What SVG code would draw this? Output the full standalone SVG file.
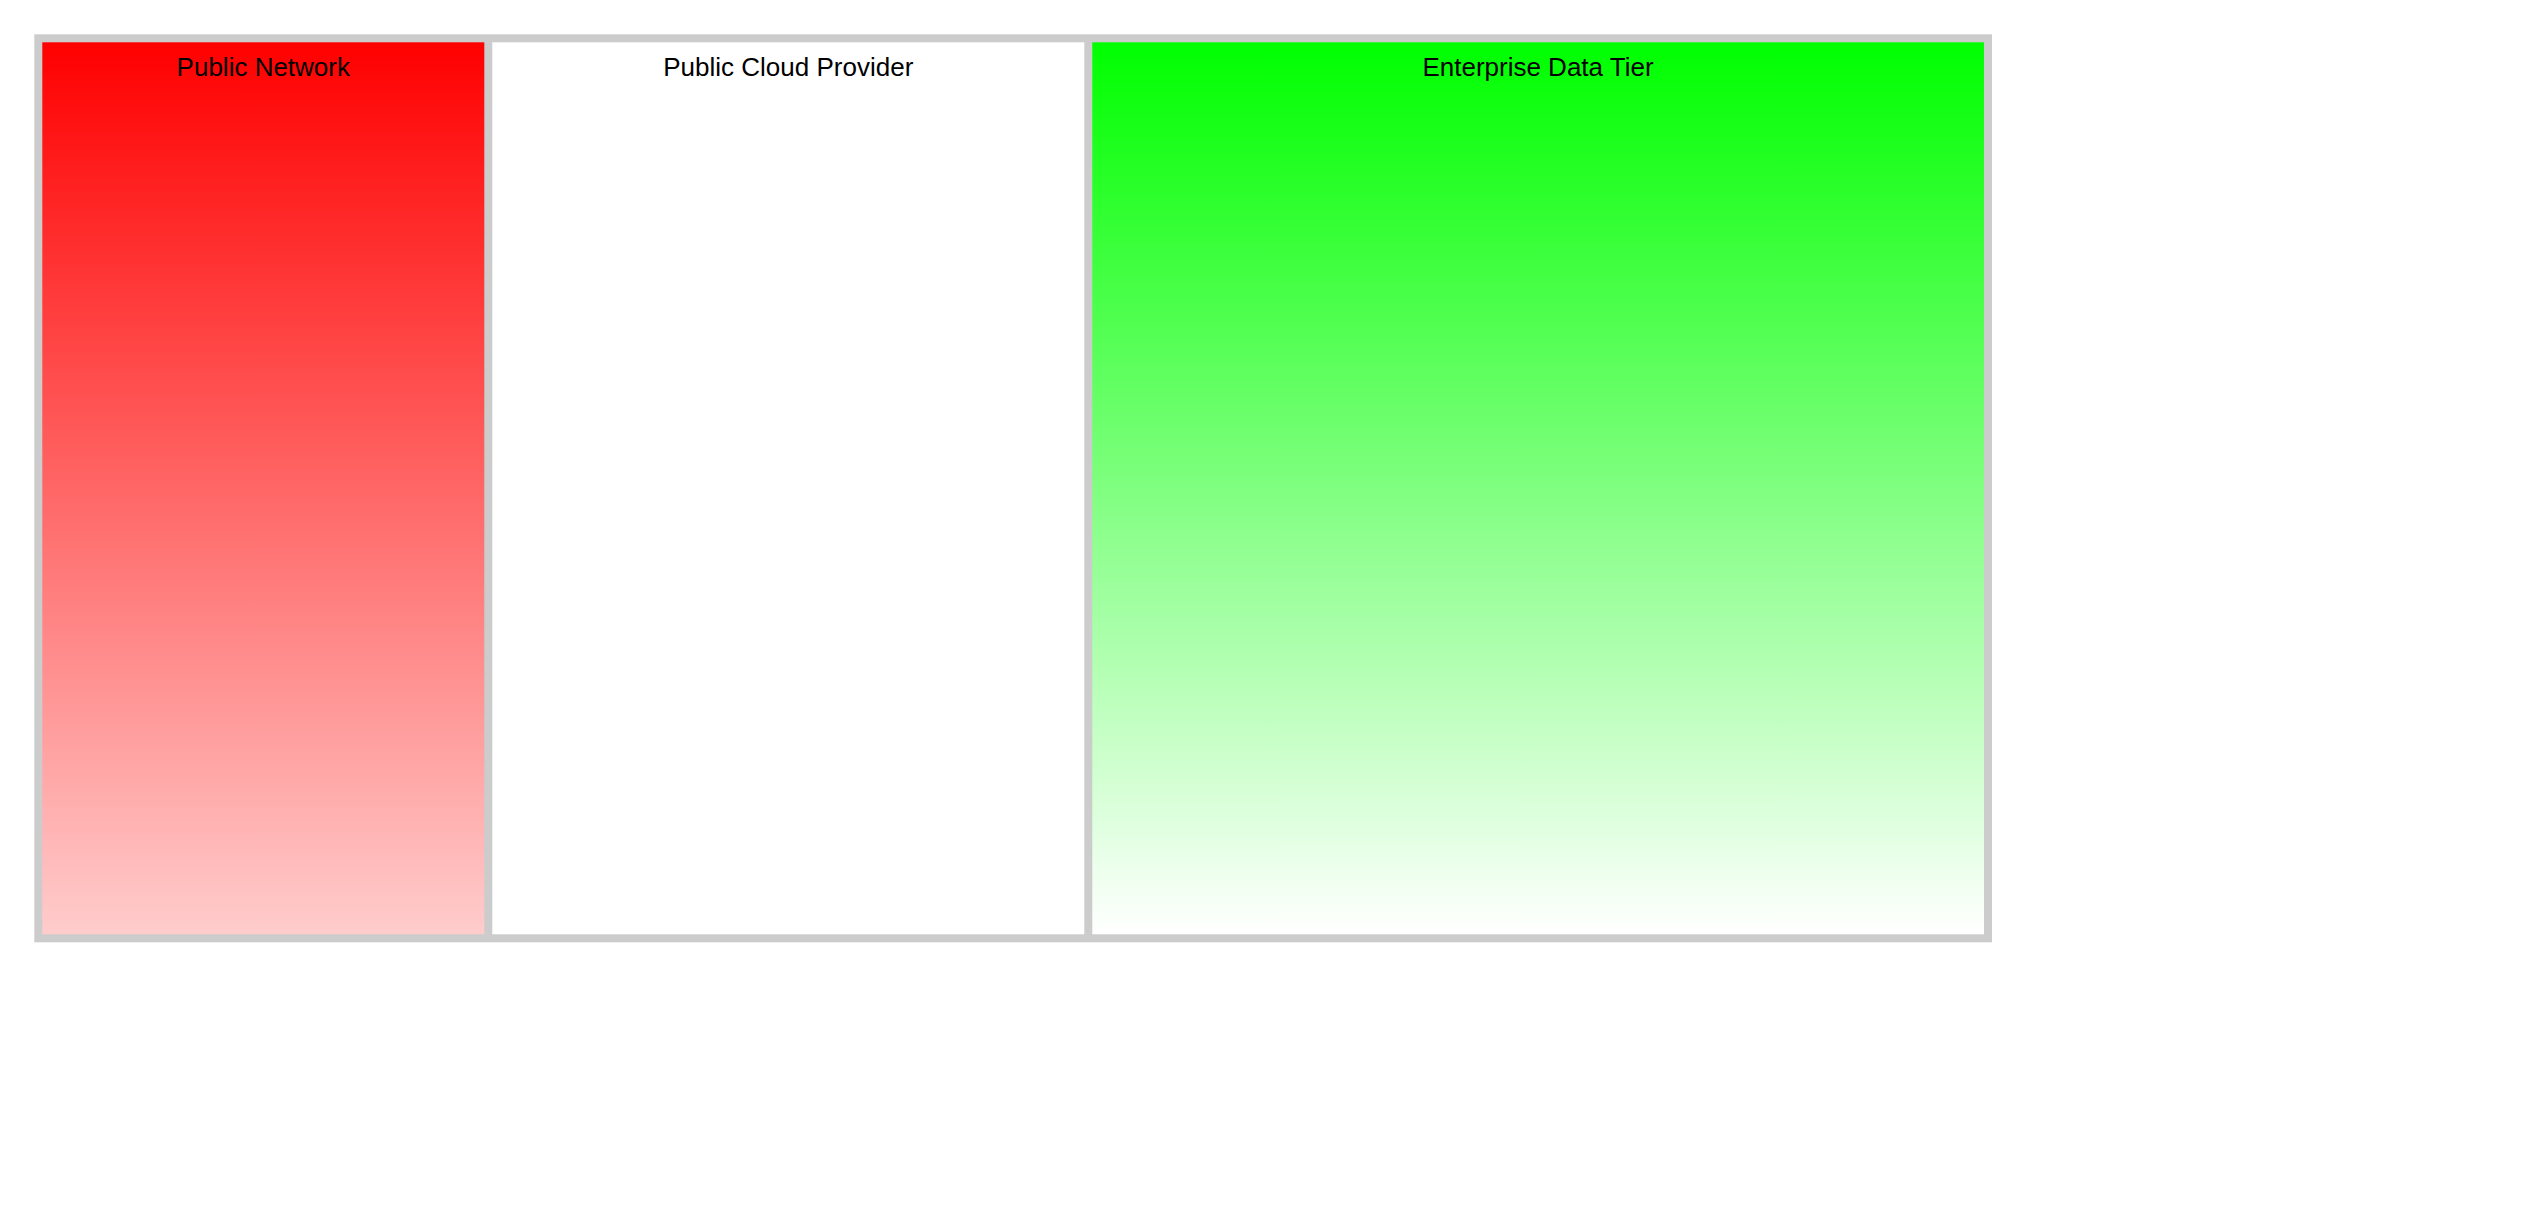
<svg xmlns="http://www.w3.org/2000/svg" width="2535" height="1222" viewBox="0 0 2535 1222">
<style>
.lbl{font-family:"Liberation Sans",Arial,sans-serif;font-size:26px;fill:#000;text-anchor:middle}
.frame{fill:#cccccc}
</style>
<defs>
<linearGradient id="gRed" x1="0" y1="0" x2="0" y2="1">
<stop offset="0" stop-color="#ff0000"/>
<stop offset="1" stop-color="#ffcccc"/>
</linearGradient>
<linearGradient id="gGreen" x1="0" y1="0" x2="0" y2="1">
<stop offset="0" stop-color="#00ff00"/>
<stop offset="1" stop-color="#ffffff"/>
</linearGradient>
</defs>
<rect x="0" y="0" width="2535" height="1222" fill="#ffffff"/>
<rect id="frame" class="frame" x="34.3" y="34.3" width="1957.7" height="908"/>
<g id="public-network">
<rect x="42.3" y="42.3" width="442" height="892" fill="url(#gRed)"/>
<text class="lbl" x="263.3" y="76">Public Network</text>
</g>
<g id="public-cloud-provider">
<rect x="492.3" y="42.3" width="592" height="892" fill="#ffffff"/>
<text class="lbl" x="788.3" y="76">Public Cloud Provider</text>
</g>
<g id="enterprise-data-tier">
<rect x="1092.3" y="42.3" width="891.7" height="892" fill="url(#gGreen)"/>
<text class="lbl" x="1538" y="76">Enterprise Data Tier</text>
</g>
<g id="connectors"/>
</svg>
